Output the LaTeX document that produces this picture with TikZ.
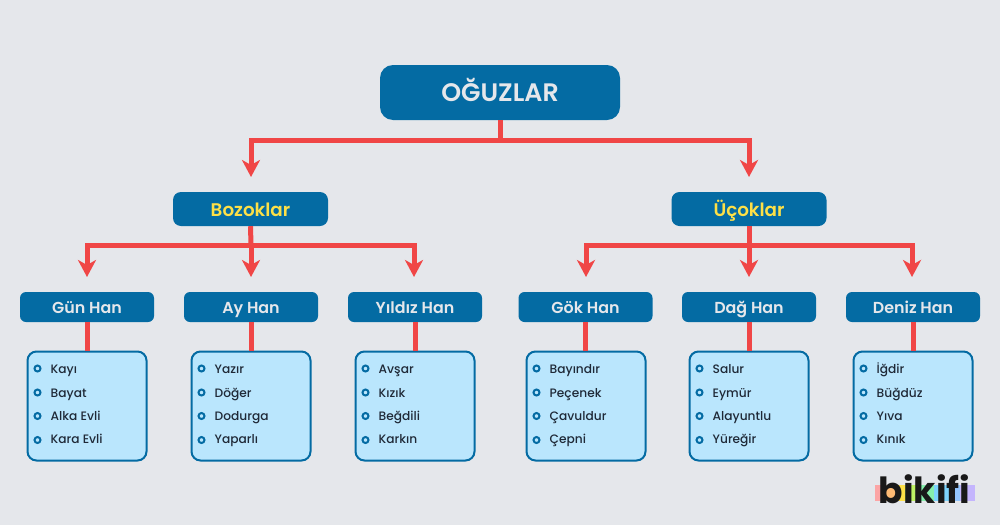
\documentclass[tikz,border=0pt]{standalone}
\usepackage{fontspec}
\setmainfont{Poppins}[UprightFont=* Medium,BoldFont=* SemiBold]
\newfontfamily\logofont{Poppins}[UprightFont=* Bold,Ligatures=NoCommon]
\usetikzlibrary{arrows.meta,calc}
\definecolor{bgc}{HTML}{E5E7EB}
\definecolor{blu}{HTML}{046BA3}
\definecolor{redc}{HTML}{F04646}
\definecolor{lite}{HTML}{BAE6FD}
\definecolor{yel}{HTML}{FDE047}
\definecolor{ink}{HTML}{1F2937}
\tikzset{
 x=1pt,y=-1pt,
 hdr/.style={fill=blu,rounded corners=#1,inner sep=0pt,text=bgc},
 rootbox/.style={hdr=13pt,minimum width=240pt,minimum height=55pt,text height=18.4pt,text depth=0pt,font=\bfseries\fontsize{25.3}{27}\selectfont},
 groupbox/.style={hdr=8pt,minimum width=155pt,minimum height=34pt,text=yel,text height=15pt,text depth=0pt,font=\bfseries\fontsize{18.3}{20}\selectfont},
 hanbox/.style={hdr=6pt,minimum width=134pt,minimum height=30pt,text height=12.4pt,text depth=0pt,font=\bfseries\fontsize{15.9}{18}\selectfont},
 listbox/.style={draw=blu,line width=2pt,fill=lite,rounded corners=9pt,minimum width=119pt,minimum height=109pt,inner sep=0pt},
 item/.style={anchor=base west,inner sep=0pt,text=ink,font=\fontsize{12.2}{14}\selectfont},
 dotm/.style={circle,draw=blu,line width=2pt,fill=lite,minimum size=6pt,inner sep=0pt},
 link/.style={draw=redc,line width=5pt},
 linkarrow/.style={link,-{Stealth[length=17pt,width=18pt,inset=5pt]}},
}
\newcommand{\hanlist}[5]{%
 \node[hanbox] (h#1) at (#2,307) {#3};
 \node[listbox] (l#1) at (#4,406) {};
 \draw[link] (h#1.south) -- (h#1.south |- l#1.north);
 \foreach \t [count=\i] in {#5}{
  \pgfmathsetmacro{\yy}{{0,373.2,397.2,420.5,443.2}[\i]}
  \pgfmathsetmacro{\yd}{{0,368.5,392.5,416,440}[\i]}
  \node[dotm] (d#1\i) at (#4-60+10.5,\yd) {};
  \node[item] (t#1\i) at (#4-60+23.5,\yy) {\t};
 }
}
\begin{document}
\begin{tikzpicture}
\path[use as bounding box,fill=bgc] (0,0) rectangle (1000,525);
\coordinate (j0) at (500,140);
\coordinate (jb) at (251,245);
\coordinate (ju) at (749,245);
\node[rootbox] (root) at (500,92.5) {OĞUZLAR};
\node[groupbox] (boz) at (250.5,209) {Bozoklar};
\node[groupbox] (uc) at (749,209) {Üçoklar};
\coordinate (bA) at (251,177);
\coordinate (uA) at (749,177);
\draw[link] (root.south) -- (j0);
\draw[linkarrow] (j0) -| (bA);
\draw[linkarrow] (j0) -| (uA);
\hanlist{a}{87}{Gün Han}{87}{Kayı,Bayat,Alka Evli,Kara Evli}
\hanlist{b}{251}{Ay Han}{251}{Yazır,Döğer,Dodurga,Yaparlı}
\hanlist{c}{415}{Yıldız Han}{415}{Avşar,Kızık,Beğdili,Karkın}
\hanlist{d}{585.5}{Gök Han}{586}{Bayındır,Peçenek,Çavuldur,Çepni}
\hanlist{e}{749}{Dağ Han}{749}{Salur,Eymür,Alayuntlu,Yüreğir}
\hanlist{f}{913}{Deniz Han}{913}{İğdir,Büğdüz,Yıva,Kınık}
\coordinate (ta) at (87,277); \coordinate (tb) at (251,277); \coordinate (tc) at (414,277);
\coordinate (td) at (586,277); \coordinate (te) at (749,277); \coordinate (tf) at (912,277);
\draw[link] (boz.south) -- (jb);
\draw[link] (uc.south) -- (ju);
\draw[linkarrow] (jb) -| (ta);
\draw[linkarrow] (jb) -- (tb);
\draw[linkarrow] (jb) -| (tc);
\draw[linkarrow] (ju) -| (td);
\draw[linkarrow] (ju) -- (te);
\draw[linkarrow] (ju) -| (tf);
% logo
\foreach \xa/\xb/\c in {875/886/FCA5A5,886/897/FDBA74,897/905/FDE047,905/917/BEF264,917/934/86EFAC,934/949/7DD3FC,949/960/93C5FD,960/975/C4B5FD}{
 \definecolor{tmpc}{HTML}{\c}
 \fill[tmpc] (\xa,485) rectangle (\xb,501);
}
\node[anchor=base,inner sep=0pt,text=black!90,font=\logofont\fontsize{36}{38}\selectfont] (logo) at (924.5,503.5) {bikifi};
\end{tikzpicture}
\end{document}
